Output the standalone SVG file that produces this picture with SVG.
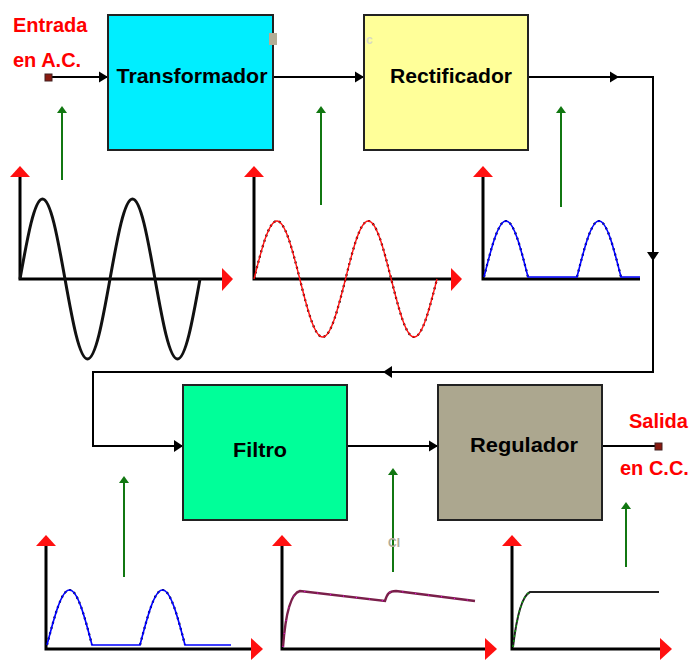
<svg xmlns="http://www.w3.org/2000/svg" width="696" height="662" viewBox="0 0 696 662">
<defs>
<style>
.box{stroke:#222;stroke-width:2}
.lbl{font-family:"Liberation Sans",Arial,sans-serif;font-weight:bold;font-size:21px;fill:#000;text-anchor:middle}
.red{font-family:"Liberation Sans",Arial,sans-serif;font-weight:bold;font-size:20px;fill:#ff0000}
.con{stroke:#000;stroke-width:2;fill:none}
.gr{stroke:#117711;stroke-width:2;fill:none}
.gh{fill:#117711}
.axis{stroke:#000;stroke-width:3;fill:none}
.rtri{fill:#ff1010}
.dot{fill:#8a1a10;stroke:#402020;stroke-width:1}
.dotted{stroke:#000;stroke-width:2.2;stroke-dasharray:2 3.5;fill:none}
</style>
<marker id="ah" viewBox="0 0 10 12" refX="10" refY="6" markerWidth="9" markerHeight="12" markerUnits="userSpaceOnUse" orient="auto"><path d="M0,0 L10,6 L0,12 z" fill="#000"/></marker>
</defs>
<rect width="696" height="662" fill="#fff"/>

<g id="connectors">
<line class="con" x1="48" y1="77" x2="108" y2="77" marker-end="url(#ah)"/>
<line class="con" x1="273" y1="77" x2="364" y2="77" marker-end="url(#ah)"/>
<line class="con" x1="528" y1="77" x2="619" y2="77" marker-end="url(#ah)"/>
<polyline class="con" points="618,77 653,77 653,258"/>
<path d="M647,252 L659,252 L653,261 z" fill="#000"/>
<polyline class="con" points="653,258 653,372 93,372 93,446 183,446" stroke="#333"/>
<path d="M392,366 L392,378 L383,372 z" fill="#000"/>
<path d="M174,440 L174,452 L183,446 z" fill="#000"/>
<line class="con" x1="347" y1="446" x2="438" y2="446" marker-end="url(#ah)"/>
<line class="con" x1="602" y1="446" x2="659" y2="446"/>
</g>

<g id="input">
<text class="red" x="13" y="32">Entrada</text>
<text class="red" x="13" y="67">en A.C.</text>
<rect class="dot" x="45" y="74" width="7" height="7"/>
</g>
<g id="output">
<text class="red" x="629" y="428">Salida</text>
<text class="red" x="620" y="475">en C.C.</text>
<rect class="dot" x="655" y="443" width="7" height="7"/>
</g>

<g id="transformador">
<rect class="box" x="108" y="15" width="165" height="135" fill="#00eeff"/>
<text class="lbl" x="192" y="83" textLength="151" lengthAdjust="spacingAndGlyphs">Transformador</text>
<rect x="269" y="33" width="8" height="12" fill="#b3ad95"/>
</g>
<g id="rectificador">
<rect class="box" x="364" y="15" width="164" height="135" fill="#ffff99"/>
<text class="lbl" x="451" y="83" textLength="122" lengthAdjust="spacingAndGlyphs">Rectificador</text>
<text x="366" y="44" font-family="Liberation Sans,Arial,sans-serif" font-size="12" font-weight="bold" fill="#d8d8c8">c</text>
</g>
<g id="filtro">
<rect class="box" x="183" y="385" width="164" height="135" fill="#00ff99"/>
<text class="lbl" x="260" y="457" textLength="54" lengthAdjust="spacingAndGlyphs">Filtro</text>
</g>
<g id="regulador">
<rect class="box" x="438" y="385" width="164" height="135" fill="#aca78f"/>
<text class="lbl" x="524" y="452" textLength="108" lengthAdjust="spacingAndGlyphs">Regulador</text>
</g>

<g id="pointers">
<line class="gr" x1="62" y1="110" x2="62" y2="180"/><path class="gh" d="M57,113 L62,106 L67,113 z"/>
<line class="gr" x1="321" y1="110" x2="321" y2="205"/><path class="gh" d="M316,113 L321,106 L326,113 z"/>
<line class="gr" x1="561" y1="110" x2="561" y2="207"/><path class="gh" d="M556,113 L561,106 L566,113 z"/>
<line class="gr" x1="124" y1="480" x2="124" y2="577"/><path class="gh" d="M119,483 L124,476 L129,483 z"/>
<line class="gr" x1="393" y1="472" x2="393" y2="572"/><path class="gh" d="M388,475 L393,468 L398,475 z"/>
<line class="gr" x1="626" y1="506" x2="626" y2="567"/><path class="gh" d="M621,509 L626,502 L631,509 z"/>
<text x="388" y="547" font-family="Liberation Sans,Arial,sans-serif" font-size="12" font-weight="bold" fill="#b0ab98">CI</text>
</g>

<g id="wave-ac">
<polyline class="axis" points="20,175 20,279 223,279"/>
<path class="rtri" d="M20,166 L30,177 L10,177 z"/>
<path class="rtri" d="M233,279 L222,268 L222,291 z"/>
<path d="M20,279 C27.5,237 34.4,199 42.5,199 C50.6,199 57.5,237 65,279 C72.5,321 79.4,359 87.5,359 C95.6,359 102.5,321 110,279 C117.5,237 124.4,199 132.5,199 C140.6,199 147.5,237 155,279 C162.5,321 169.4,359 177.5,359 C185.6,359 192.5,321 200,279" stroke="#111" stroke-width="3" fill="none"/>
</g>

<g id="wave-trans">
<polyline class="axis" points="254,175 254,279 451,279"/>
<path class="rtri" d="M254,166 L264,177 L244,177 z"/>
<path class="rtri" d="M462,279 L451,268 L451,291 z"/>
<path d="M254,279 C261.7,248.5 268.7,221 276.9,221 C285.1,221 292.1,248.5 299.8,279 C307.4,309.5 314.4,337 322.6,337 C330.8,337 337.8,309.5 345.5,279 C353.1,248.5 360.1,221 368.3,221 C376.5,221 383.5,248.5 391.2,279 C398.9,309.5 405.9,337 414.1,337 C422.3,337 429.3,309.5 437,279" class="dotted"/>
<path d="M254,279 C261.7,248.5 268.7,221 276.9,221 C285.1,221 292.1,248.5 299.8,279 C307.4,309.5 314.4,337 322.6,337 C330.8,337 337.8,309.5 345.5,279 C353.1,248.5 360.1,221 368.3,221 C376.5,221 383.5,248.5 391.2,279 C398.9,309.5 405.9,337 414.1,337 C422.3,337 429.3,309.5 437,279" stroke="#ff1010" stroke-width="1.4" fill="none"/>
</g>

<g id="wave-rect">
<polyline class="axis" points="483,175 483,279 640,279"/>
<path class="rtri" d="M483,166 L493,177 L473,177 z"/>
<path d="M484,277 C491.4,247.6 498.1,221 506,221 C513.9,221 520.6,247.6 528,277 M577,277 C584.4,247.6 591.1,221 599,221 C606.9,221 613.6,247.6 621,277" class="dotted"/>
<path d="M484,277 C491.4,247.6 498.1,221 506,221 C513.9,221 520.6,247.6 528,277 L577,277 C584.4,247.6 591.1,221 599,221 C606.9,221 613.6,247.6 621,277 L640,277" stroke="#0000ff" stroke-width="1.6" fill="none"/>
</g>

<g id="wave-filt-in">
<polyline class="axis" points="46,545 46,649 252,649"/>
<path class="rtri" d="M46,535 L56,546 L36,546 z"/>
<path class="rtri" d="M263,649 L251,638 L251,660 z"/>
<path d="M47,645 C54.5,616 61.4,590 69.5,590 C77.6,590 84.5,616 92,645 M140,645 C147.5,616 154.4,590 162.5,590 C170.6,590 177.5,616 185,645" class="dotted"/>
<path d="M47,645 C54.5,616 61.4,590 69.5,590 C77.6,590 84.5,616 92,645 L140,645 C147.5,616 154.4,590 162.5,590 C170.6,590 177.5,616 185,645 L231,645" stroke="#0000ff" stroke-width="1.6" fill="none"/>
</g>

<g id="wave-filt-out">
<polyline class="axis" points="282,545 282,649 485,649"/>
<path class="rtri" d="M282,535 L292,546 L272,546 z"/>
<path class="rtri" d="M497,649 L485,638 L485,660 z"/>
<path d="M283,647 Q287,594 300,591 L385,601 C387,594 389,591 396,591 L475,601" stroke="#7a1f4a" stroke-width="2.4" fill="none"/>
<path d="M283,647 Q287,594 300,591 L385,601 C387,594 389,591 396,591 L475,601" stroke="#ff00ff" stroke-width="1" stroke-dasharray="1 12" fill="none"/>
</g>

<g id="wave-reg">
<polyline class="axis" points="512,545 512,649 661,649"/>
<path class="rtri" d="M512,535 L522,546 L502,546 z"/>
<path class="rtri" d="M672,649 L660,638 L660,660 z"/>
<path d="M513,647 Q519,597 530,592 L659,592" stroke="#222" stroke-width="2" fill="none"/>
<path d="M513,647 Q519,597 530,592" stroke="#119911" stroke-width="1.5" stroke-dasharray="2 3" fill="none"/>
</g>
</svg>
